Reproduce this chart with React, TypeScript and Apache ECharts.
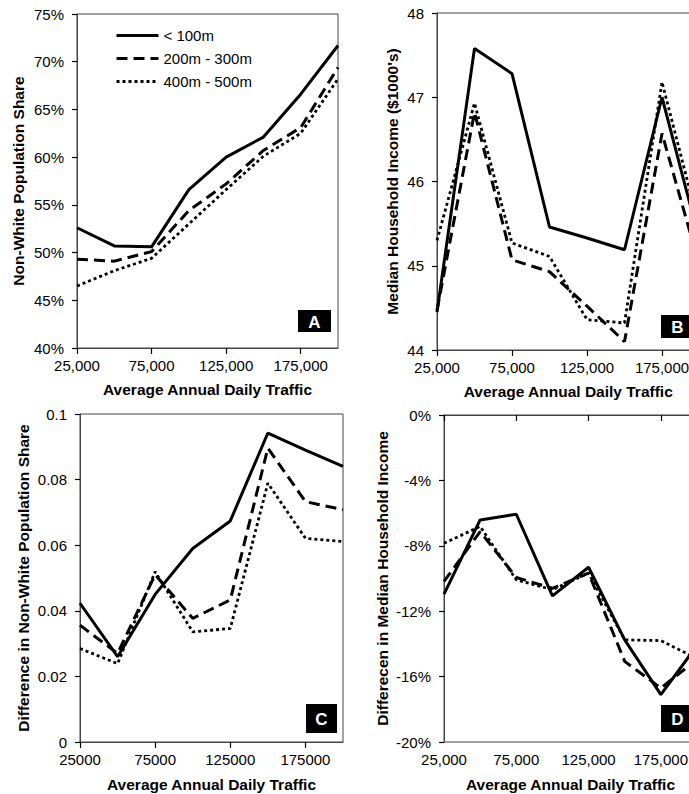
import React, { useEffect, useRef } from "react";
import * as echarts from "echarts";

const xValues = ["25000", "50000", "75000", "100000", "125000", "150000", "175000", "200000"];
const seriesNames = ["< 100m", "200m - 300m", "400m - 500m"];

// Panel A: Non-White Population Share (%)
const aNear = [52.6, 50.7, 50.6, 56.6, 60.0, 62.1, 66.6, 71.7];
const aMid = [49.3, 49.1, 50.1, 54.4, 57.2, 60.7, 63.1, 69.4];
const aFar = [46.5, 48.1, 49.4, 53.0, 56.6, 60.1, 62.5, 68.2];

// Panel B: Median Household Income ($1000's)
const bNear = [44.45, 47.58, 47.28, 45.46, 45.33, 45.19, 47.0, 45.3];
const bMid = [44.47, 46.82, 45.07, 44.93, 44.52, 44.1, 46.57, 45.0];
const bFar = [45.3, 46.93, 45.27, 45.11, 44.36, 44.32, 47.18, 45.45];

// Panel C: Difference in Non-White Population Share
const cNear = [0.0423, 0.026, 0.045, 0.059, 0.0674, 0.0942, 0.089, 0.084];
const cMid = [0.0356, 0.027, 0.051, 0.0377, 0.0433, 0.0896, 0.0733, 0.0708];
const cFar = [0.0285, 0.0239, 0.0519, 0.0336, 0.0346, 0.0789, 0.0621, 0.0611];

// Panel D: Difference in Median Household Income (%)
const dNear = [-10.96, -6.42, -6.07, -11.06, -9.31, -13.75, -17.1, -14.1];
const dMid = [-10.18, -7.13, -9.94, -10.6, -9.67, -15.07, -16.7, -14.95];
const dFar = [-7.84, -6.82, -10.08, -10.69, -9.67, -13.75, -13.8, -14.9];

const panelLetters = ["A", "B", "C", "D"];

const FONT = "'Liberation Sans', Arial, Helvetica, sans-serif";
const AXIS_COLOR = "#444";

const lineStyles = [
  { type: "solid", width: 3 },
  { type: [11, 6], width: 3 },
  { type: [3, 3], width: 2.8 },
];

export default function App() {
  const ref = useRef<HTMLDivElement>(null);

  useEffect(() => {
    if (!ref.current) return;
    const chart = echarts.init(ref.current, undefined, { renderer: "svg" });

    const grids = [
      { left: 77, top: 14, width: 261, height: 334 },
      { left: 437, top: 13, width: 262.5, height: 337 },
      { left: 80, top: 414, width: 263, height: 328 },
      { left: 444, top: 415, width: 253, height: 327 },
    ];

    const comma = (v: string) => Number(v).toLocaleString("en-US");
    const plain = (v: string) => v;

    const xAxisFor = (gi: number, fmt: (v: string) => string) => ({
      type: "category",
      gridIndex: gi,
      data: xValues,
      boundaryGap: false,
      axisLine: { lineStyle: { color: AXIS_COLOR, width: 1 } },
      axisTick: { show: true, interval: 1, length: 6, lineStyle: { color: "#000", width: 1.2 } },
      axisLabel: {
        interval: 1,
        formatter: fmt,
        color: "#000",
        fontSize: 15,
        fontFamily: FONT,
        margin: 10,
      },
      splitLine: { show: false },
      name: "Average Annual Daily Traffic",
      nameLocation: "middle",
      nameGap: gi < 2 ? 33 : 34,
      nameTextStyle: { fontSize: 15.5, fontWeight: "bold", color: "#000", fontFamily: FONT },
    });

    const yAxisFor = (
      gi: number,
      min: number,
      max: number,
      interval: number,
      fmt: (v: number) => string,
      name: string,
      nameGap: number
    ) => ({
      type: "value",
      gridIndex: gi,
      min,
      max,
      interval,
      axisLine: { show: true, lineStyle: { color: AXIS_COLOR, width: 1 } },
      axisTick: { show: true, length: 5, lineStyle: { color: "#000", width: 1.2 } },
      axisLabel: { formatter: fmt, color: "#000", fontSize: 15, fontFamily: FONT, margin: 13 },
      splitLine: { show: false },
      name,
      nameLocation: "middle",
      nameGap,
      nameTextStyle: { fontSize: 15.5, fontWeight: "bold", color: "#000", fontFamily: FONT },
    });

    const panelData = [
      [aNear, aMid, aFar],
      [bNear, bMid, bFar],
      [cNear, cMid, cFar],
      [dNear, dMid, dFar],
    ];

    const series: any[] = [];
    panelData.forEach((arrs, gi) => {
      arrs.forEach((arr, si) => {
        series.push({
          type: "line",
          name: seriesNames[si],
          xAxisIndex: gi,
          yAxisIndex: gi,
          data: arr,
          symbol: "none",
          showSymbol: false,
          z: 3 - si,
          lineStyle: { color: "#000", ...lineStyles[si] },
          itemStyle: { color: "#000" },
          emphasis: { disabled: true },
        });
      });
    });

    const boxes = [
      { x: 298, y: 310, w: 33, h: 22 },
      { x: 661, y: 315, w: 33, h: 23 },
      { x: 306, y: 704, w: 31, h: 29 },
      { x: 661, y: 705, w: 33, h: 27 },
    ];

    const graphic: any[] = [];
    boxes.forEach((b, i) => {
      graphic.push({
        type: "rect",
        shape: { x: b.x, y: b.y, width: b.w, height: b.h },
        style: { fill: "#000" },
        z: 100,
      });
      graphic.push({
        type: "text",
        x: b.x + b.w / 2,
        y: b.y + b.h / 2 + 1,
        z: 101,
        style: {
          text: panelLetters[i],
          fill: "#fff",
          font: `bold 17px ${FONT}`,
          textAlign: "center",
          textVerticalAlign: "middle",
          align: "center",
          verticalAlign: "middle",
        },
      });
    });

    chart.setOption({
      animation: false,
      textStyle: { fontFamily: FONT },
      grid: grids.map((g) => ({
        ...g,
        show: true,
        borderColor: AXIS_COLOR,
        borderWidth: 1,
        backgroundColor: "transparent",
        containLabel: false,
        outerBoundsMode: "none",
      })),
      legend: {
        show: true,
        orient: "vertical",
        left: 115,
        top: 28,
        padding: 0,
        itemWidth: 42,
        itemHeight: 14,
        itemGap: 8,
        data: seriesNames,
        selectedMode: false,
        textStyle: { fontSize: 15, color: "#000", fontFamily: FONT },
        lineStyle: { width: 3 },
        itemStyle: { color: "rgba(0,0,0,0)", borderWidth: 0, opacity: 0 },
      },
      xAxis: [xAxisFor(0, comma), xAxisFor(1, comma), xAxisFor(2, plain), xAxisFor(3, comma)],
      yAxis: [
        yAxisFor(0, 40, 75, 5, (v) => `${v}%`, "Non-White Population Share", 51),
        yAxisFor(1, 44, 48, 1, (v) => `${v}`, "Median Household Income ($1000's)", 37),
        yAxisFor(2, 0, 0.1, 0.02, (v) => `${Math.round(v * 100) / 100}`, "Difference in Non-White Population Share", 49),
        yAxisFor(3, -20, 0, 4, (v) => `${v}%`, "Differecen in Median Household Income", 54),
      ],
      series,
      graphic,
    });

    return () => chart.dispose();
  }, []);

  return (
    <div
      ref={ref}
      style={{ position: "fixed", left: 0, top: 0, width: 689, height: 794, background: "#fff" }}
    />
  );
}
